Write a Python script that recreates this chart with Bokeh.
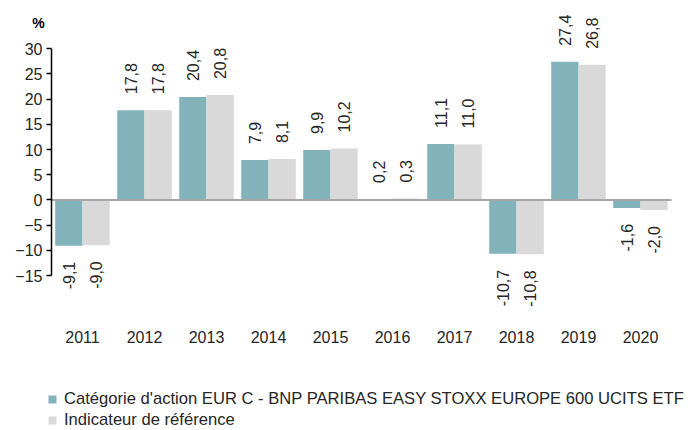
import math
from bokeh.plotting import figure
from bokeh.models import (ColumnDataSource, Label, Legend, LegendItem,
                          FixedTicker, Range1d)
from bokeh.transform import dodge
from bokeh.core.properties import value
from bokeh.embed import file_html
from bokeh.resources import INLINE

years = ["2011", "2012", "2013", "2014", "2015", "2016", "2017", "2018", "2019", "2020"]
fund = [-9.1, 17.8, 20.4, 7.9, 9.9, 0.2, 11.1, -10.7, 27.4, -1.6]
bench = [-9.0, 17.8, 20.8, 8.1, 10.2, 0.3, 11.0, -10.8, 26.8, -2.0]
y_ticks = [-15, -10, -5, 0, 5, 10, 15, 20, 25, 30]
fund_name = "Catégorie d'action EUR C - BNP PARIBAS EASY STOXX EUROPE 600 UCITS ETF"
bench_name = "Indicateur de référence"

TEAL = "#82B3BA"
GREY = "#D9D9D9"
TXT = "#262626"
FONT = "Liberation Sans"

W, H = 700, 430
PX_PER_UNIT = 5.04          # y pixels per percent
ZERO_PX = 199.4             # y pixel of 0 %
CAT_W = 62.0                # pixels per year
FIRST_CENTER_PX = 82.0      # x pixel of the first year's centre
OFF = 16 / PX_PER_UNIT
Y_TOP = ZERO_PX / PX_PER_UNIT
Y_BOT = -(H - ZERO_PX) / PX_PER_UNIT
X_START = -FIRST_CENTER_PX / CAT_W
X_END = X_START + W / CAT_W
YEAR_LABEL_Y = -(336 - ZERO_PX) / PX_PER_UNIT


def fmt(v):
    return f"{v:.1f}".replace(".", ",")


def label_cols(vals):
    ys = [v + OFF if v >= 0 else v - OFF for v in vals]
    al = ["left" if v >= 0 else "right" for v in vals]
    return ys, al, [fmt(v) for v in vals]


fy, fa, ft = label_cols(fund)
by, ba, bt = label_cols(bench)
src = ColumnDataSource(dict(x=list(range(len(years))), year=years, fund=fund, bench=bench,
                            fy=fy, fa=fa, ft=ft, by=by, ba=ba, bt=bt,
                            ly=[YEAR_LABEL_Y] * len(years)))

p = figure(width=W, height=H, x_range=Range1d(X_START, X_END),
           y_range=Range1d(Y_BOT, Y_TOP), output_backend="svg", toolbar_location=None,
           x_axis_location=None,
           min_border_left=0, min_border_right=0, min_border_top=0,
           min_border_bottom=0)
p.outline_line_color = None
p.grid.grid_line_color = None
p.background_fill_color = "white"

r1 = p.vbar(x=dodge("x", -0.22), top="fund", width=0.44,
            source=src, fill_color=TEAL, line_color=None)
r2 = p.vbar(x=dodge("x", 0.22), top="bench", width=0.44,
            source=src, fill_color=GREY, line_color=None)

# zero line across the years
p.segment(x0=[-0.5], y0=[0], x1=[len(years) - 0.5], y1=[0],
          line_color="#A6A6A6", line_width=2)

for xo, yc, ac, tc in [(-0.22, "fy", "fa", "ft"), (0.22, "by", "ba", "bt")]:
    p.text(x=dodge("x", xo), y=yc, text=tc, source=src,
           angle=math.pi / 2, text_align=ac, text_baseline="middle",
           text_font=value(FONT), text_font_size="16px", text_color=TXT)

# year labels
p.text(x="x", y="ly", text="year", source=src, text_align="center",
       text_baseline="middle", text_font=value(FONT), text_font_size="16px",
       text_color=TXT)

# y axis, drawn at the left edge of the first year
ya = p.yaxis[0]
ya.fixed_location = -0.5
ya.ticker = FixedTicker(ticks=y_ticks)
ya.bounds = (-15, 30)
ya.axis_line_color = "black"
ya.axis_line_width = 1.5
ya.major_tick_line_color = "black"
ya.major_tick_line_width = 1.5
ya.major_tick_out = 5
ya.major_tick_in = 0
ya.minor_tick_line_color = None
ya.major_label_text_font = FONT
ya.major_label_text_font_size = "16px"
ya.major_label_text_color = TXT
ya.major_label_standoff = 4

p.add_layout(Label(x=(38 - FIRST_CENTER_PX) / CAT_W, y=(ZERO_PX - 22) / PX_PER_UNIT, text="%",
                   text_align="center", text_baseline="middle",
                   text_font=FONT, text_font_size="14px", text_font_style="bold",
                   text_color="black"))

legend = Legend(items=[LegendItem(label=fund_name, renderers=[r1]),
                       LegendItem(label=bench_name, renderers=[r2])],
                location=(47, 0), orientation="vertical",
                border_line_color=None, background_fill_alpha=0,
                padding=0, margin=0, spacing=1, label_height=20,
                glyph_width=10, glyph_height=10, label_standoff=7,
                label_text_font=FONT, label_text_font_size="16.6px",
                label_text_color=TXT)
p.add_layout(legend, "center")

open("out.html", "w").write(file_html(p, INLINE))
